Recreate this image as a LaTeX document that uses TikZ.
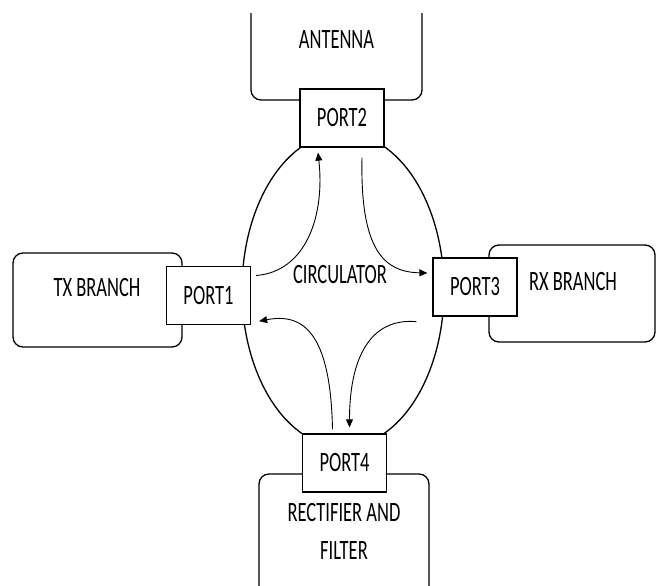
\documentclass[tikz,border=0pt]{standalone}
\usepackage{fontspec}
\setmainfont{Carlito}[FakeStretch=0.66]
\usetikzlibrary{shapes.geometric}
\usetikzlibrary{arrows.meta}
\usetikzlibrary{calc}

\begin{document}
\begin{tikzpicture}
        [x = 1pt, y = -1pt,
        every node/.style = {inner sep = 0, font = {\fontsize{28}{38}\selectfont}},
        branch/.style = {draw, rounded corners = 10pt, line width = 1.3pt},
        port/.style = {draw, fill = white, minimum width = 84pt, minimum height = 58pt, line width = 1.3pt},
        flow/.style = {line width = 0.9pt, -{Triangle[length = 8pt, width = 7pt]}}]
        \useasboundingbox (0, 0) rectangle (656, 586);
        \clip (0, 14) rectangle (656, 586);
        % circulator body
        \node (circ) [ellipse, draw, line width = 1.3pt, minimum width = 202pt, minimum height = 314pt] at (343, 290) {};
        \node (circlbl) at (340, 275) {CIRCULATOR};
        % branches
        \node (ant) [branch, minimum width = 171pt, minimum height = 120pt] at (336.5, 40) {ANTENNA};
        \node (tx) [branch, minimum width = 169pt, minimum height = 94pt] at (97.5, 300) {};
        \node (txlbl) at (97, 288) {TX BRANCH};
        \node (rx) [branch, minimum width = 166pt, minimum height = 97pt] at (572, 293.5) {};
        \node (rxlbl) at (573, 282) {RX BRANCH};
        \node (rect) [branch, minimum width = 170pt, minimum height = 136pt] at (344, 542) {};
        \node (rectlbl) [align = center] at (344, 531) {RECTIFIER AND\\FILTER};
        % ports
        \node (port1) [port] at (208.5, 295.5) {PORT1};
        \node (port2) [port] at (342, 118) {PORT2};
        \node (port3) [port] at (475, 287) {PORT3};
        \node (port4) [port] at (344.5, 463) {PORT4};
        \draw[flow] ($(port1.east)+(5,-20)$) .. controls +(50,-4) and +(7,63) .. ($(port2.south)+(-24,5)$);
        \draw[flow] ($(port2.south)+(20,10)$) .. controls +(-2,93) and +(-43,-1) .. ($(port3.west)+(-5,-14)$);
        \draw[flow] ($(port3.south west)+(-16,5)$) .. controls +(-47,-4) and +(0,-68) .. ($(port4.north)+(5,-6)$);
        \draw[flow] ($(port4.north)+(-12,-4)$) .. controls +(-2,-100) and +(42,-8) .. ($(port1.south east)+(8,-4)$);
    \end{tikzpicture}
\end{document}
